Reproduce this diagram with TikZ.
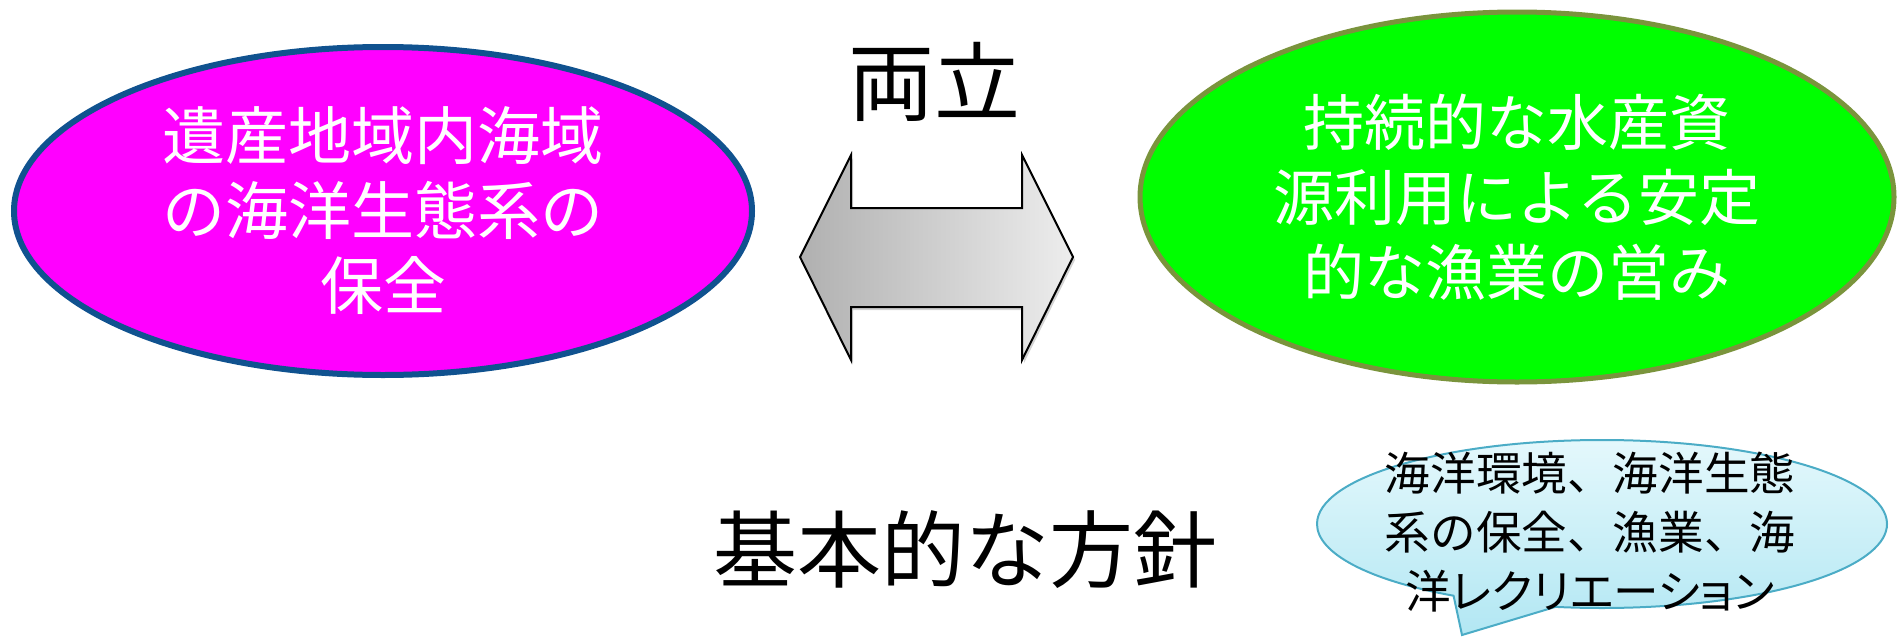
\documentclass[tikz,border=0pt]{standalone}
\usepackage{fontspec}
\setmainfont{Noto Sans CJK JP}
\newfontfamily\jpprop[RawFeature=+palt]{Noto Sans CJK JP}
\usetikzlibrary{shapes.geometric,shapes.callouts,shadows}
\definecolor{magfill}{RGB}{255,0,255}
\definecolor{magline}{RGB}{16,82,143}
\definecolor{grnfill}{RGB}{0,255,0}
\definecolor{grnline}{RGB}{122,148,60}
\definecolor{bubline}{RGB}{75,172,198}
\definecolor{bubtop}{RGB}{228,248,252}
\definecolor{bubbot}{RGB}{178,231,243}
\tikzset{
  goal/.style={ellipse, inner sep=0pt, text=white, align=center},
  bigtext/.style={inner sep=0pt, text=black},
  bubble/.style={ellipse callout, draw=bubline, line width=1pt,
    top color=bubtop, bottom color=bubbot, inner sep=0pt,
    minimum width=285pt, minimum height=84pt, callout pointer arc=22},
  bubtext/.style={inner sep=0pt, align=center, text=black,
    font=\fontsize{22.8pt}{29.5pt}\selectfont},
  bigarrow/.style={draw=black, line width=1pt, line join=miter,
    left color=gray!62, right color=gray!14,
    drop shadow={opacity=0.35, shadow xshift=1pt, shadow yshift=-1.5pt}}
}
\begin{document}
\begin{tikzpicture}[x=0.5pt,y=-0.5pt]
\useasboundingbox (0,0) rectangle (1904,637);
% left goal
\node[goal, draw=magline, line width=3pt, fill=magfill,
  font=\fontsize{31.5pt}{37.5pt}\selectfont,
  minimum width=369pt, minimum height=164pt] (left) at (383,211)
  {遺産地域内海域\\の海洋生態系の\\保全};
% right goal
\node[goal, draw=grnline, line width=2.5pt, fill=grnfill,
  font=\fontsize{30.5pt}{37.5pt}\selectfont,
  minimum width=377pt, minimum height=185pt] (right) at (1517,197)
  {持続的な水産資\\源利用による安定\\的な漁業の営み};
% double arrow
\path[bigarrow] (800,257) -- (851,155) -- (851,208) -- (1022,208) -- (1022,155)
  -- (1073,257) -- (1022,360) -- (1022,307) -- (851,307) -- (851,360) -- cycle;
% labels
\node[bigtext, font=\fontsize{43pt}{50pt}\selectfont] (both) at (934,82) {両立};
\node[bigtext, font=\fontsize{42pt}{50pt}\selectfont] (policy) at (965,550) {基本的な方針};
% callout
\coordinate (tip) at (1462,635);
\node[bubble, callout absolute pointer={(tip)}] (bub) at (1602,524) {};
\node[bubtext] (bubt) at (1590,532) {海洋環境、海洋生態\\系の保全、漁業、海\\{\jpprop 洋レクリエーション}};
\end{tikzpicture}
\end{document}
